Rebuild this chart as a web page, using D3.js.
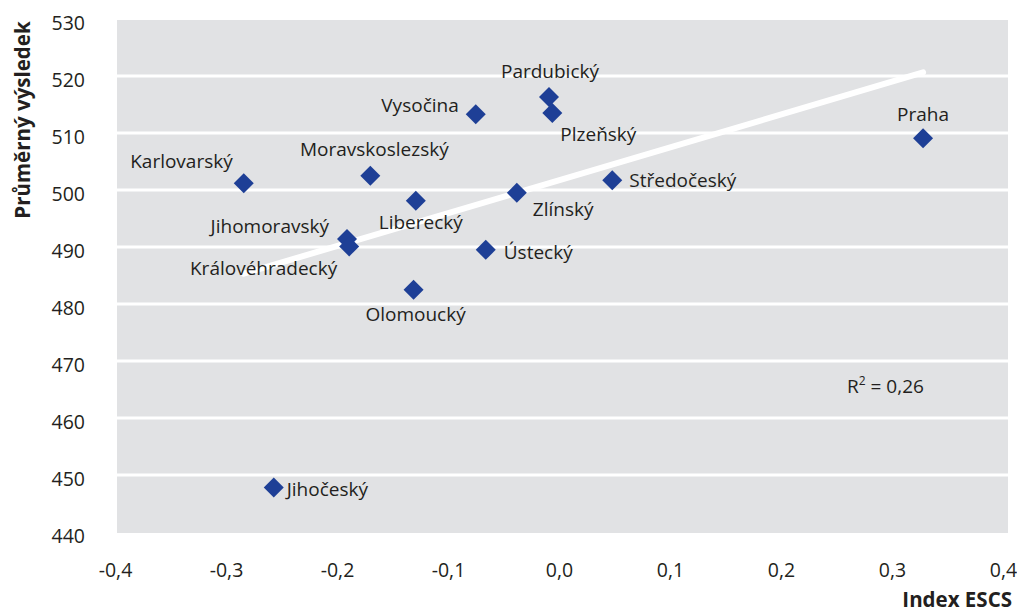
<!DOCTYPE html>
<html>
<head>
<meta charset="utf-8">
<script src="https://cdn.jsdelivr.net/npm/d3@7/dist/d3.min.js"></script>
<style>
  body { margin: 0; background: #fff; }
  text { font-family: "Open Sans", "Noto Sans", sans-serif; fill: #231f20; }
</style>
</head>
<body>
<div id="chart"></div>
<script>
// data
var regions = ["Praha", "Pardubický", "Plzeňský", "Vysočina", "Středočeský", "Zlínský",
  "Ústecký", "Liberecký", "Moravskoslezský", "Karlovarský", "Jihomoravský",
  "Královéhradecký", "Olomoucký", "Jihočeský"];
var escs = [0.328, -0.009, -0.006, -0.075, 0.048, -0.038,
  -0.066, -0.129, -0.170, -0.284, -0.191,
  -0.189, -0.131, -0.257];
var scores = [509.1, 516.3, 513.5, 513.3, 501.7, 499.5,
  489.5, 498.1, 502.5, 501.2, 491.4,
  490.1, 482.5, 447.8];
var xTicks = [-0.4, -0.3, -0.2, -0.1, 0.0, 0.1, 0.2, 0.3, 0.4];
var yTicks = [440, 450, 460, 470, 480, 490, 500, 510, 520, 530];
var xTitle = "Index ESCS";
var yTitle = "Průměrný výsledek";
var r2Text = "0,26";

// where each label sits next to its diamond: anchor, dx, dy
var labelPlace = {
  "Praha": ["middle", 0, -24],
  "Pardubický": ["middle", 1, -26],
  "Plzeňský": ["start", 8, 21],
  "Vysočina": ["end", -17, -9],
  "Středočeský": ["start", 17, 0],
  "Zlínský": ["start", 16, 16],
  "Ústecký": ["start", 18, 2],
  "Liberecký": ["middle", 5, 21],
  "Moravskoslezský": ["middle", 4, -27],
  "Karlovarský": ["end", -11, -22],
  "Jihomoravský": ["end", -18, -13],
  "Královéhradecký": ["end", -12, 22],
  "Olomoucký": ["middle", 2, 24],
  "Jihočeský": ["start", 13, 1]
};

var W = 1017, H = 613;
var fmt = function(v) { return d3.format(".1f")(v).replace(".", ",").replace("−", "-"); };

var svg = d3.select("#chart")
    .append("svg")
    .attr("width", W)
    .attr("height", H);

var x = d3.scaleLinear().domain([-0.4, 0.4]).range([115, 1003]);
var y = d3.scaleLinear().domain([440, 530]).range([532, 19]);

// plot background
svg.append("rect")
  .attr("x", x(-0.4) + 2)
  .attr("y", y(530) + 1)
  .attr("width", x(0.4) - x(-0.4) + 3)
  .attr("height", y(440) - y(530))
  .attr("fill", "#e1e2e4");

// gridlines
svg.selectAll(".grid")
  .data(yTicks.slice(1, -1))
  .enter().append("line")
  .attr("class", "grid")
  .attr("x1", x(-0.4) + 2)
  .attr("x2", x(0.4) + 5)
  .attr("y1", function(d) { return y(d); })
  .attr("y2", function(d) { return y(d); })
  .attr("stroke", "#fff")
  .attr("stroke-width", 3);

// regression line
var pts = escs.map(function(v, i) { return [v, scores[i]]; });
var mx = d3.mean(escs), my = d3.mean(scores);
var sxy = d3.sum(pts, function(p) { return (p[0] - mx) * (p[1] - my); });
var sxx = d3.sum(pts, function(p) { return (p[0] - mx) * (p[0] - mx); });
var slope = sxy / sxx, icpt = my - slope * mx;
var ext = d3.extent(escs);

svg.append("line")
  .attr("x1", x(ext[0]))
  .attr("y1", y(icpt + slope * ext[0]))
  .attr("x2", x(ext[1]))
  .attr("y2", y(icpt + slope * ext[1]))
  .attr("stroke", "#fff")
  .attr("stroke-width", 6)
  .attr("stroke-linecap", "round");

// diamonds
var diamond = d3.symbol().type(d3.symbolSquare).size(200);
svg.selectAll(".pt")
  .data(pts)
  .enter().append("path")
  .attr("class", "pt")
  .attr("d", diamond)
  .attr("transform", function(d) { return "translate(" + x(d[0]) + "," + y(d[1]) + ") rotate(45)"; })
  .attr("fill", "#1e3f96");

// point labels
svg.selectAll(".lbl")
  .data(regions)
  .enter().append("text")
  .attr("class", "lbl")
  .attr("x", function(d, i) { return x(escs[i]) + labelPlace[d][1]; })
  .attr("y", function(d, i) { return y(scores[i]) + labelPlace[d][2]; })
  .attr("text-anchor", function(d) { return labelPlace[d][0]; })
  .attr("dominant-baseline", "central")
  .attr("font-size", 19)
  .text(function(d) { return d; });

// axes (labels only)
var xAxis = d3.axisBottom(x).tickValues(xTicks).tickFormat(fmt).tickSize(0).tickPadding(0);
svg.append("g")
  .attr("class", "x-axis")
  .attr("transform", "translate(0,569)")
  .call(xAxis)
  .call(function(g) { g.select(".domain").remove(); })
  .selectAll("text")
  .attr("dy", null)
  .attr("dominant-baseline", "central")
  .attr("font-size", 19.5)
  .attr("font-family", null)
  .attr("fill", null);

var yAxis = d3.axisLeft(y).tickValues(yTicks).tickSize(0).tickPadding(0);
svg.append("g")
  .attr("class", "y-axis")
  .attr("transform", "translate(85,3)")
  .call(yAxis)
  .call(function(g) { g.select(".domain").remove(); })
  .selectAll("text")
  .attr("dy", null)
  .attr("dominant-baseline", "central")
  .attr("font-size", 19.5)
  .attr("font-family", null)
  .attr("fill", null);
svg.selectAll(".x-axis, .y-axis").attr("font-family", null).attr("font-size", null);

// axis titles
svg.append("text")
  .attr("transform", "translate(22,120) rotate(-90)")
  .attr("text-anchor", "middle")
  .attr("dominant-baseline", "central")
  .attr("font-size", 20.5)
  .attr("font-weight", "bold")
  .text(yTitle);

svg.append("text")
  .attr("x", 1012)
  .attr("y", 599)
  .attr("text-anchor", "end")
  .attr("dominant-baseline", "central")
  .attr("font-size", 20.5)
  .attr("font-weight", "bold")
  .text(xTitle);

// R squared note
var r2 = svg.append("text")
  .attr("x", 847)
  .attr("y", 386)
  .attr("dominant-baseline", "central")
  .attr("font-size", 19);
r2.append("tspan").text("R");
r2.append("tspan").attr("font-size", 12).attr("dy", -6).text("2");
r2.append("tspan").attr("dy", 6).text(" = " + r2Text);
</script>
</body>
</html>
